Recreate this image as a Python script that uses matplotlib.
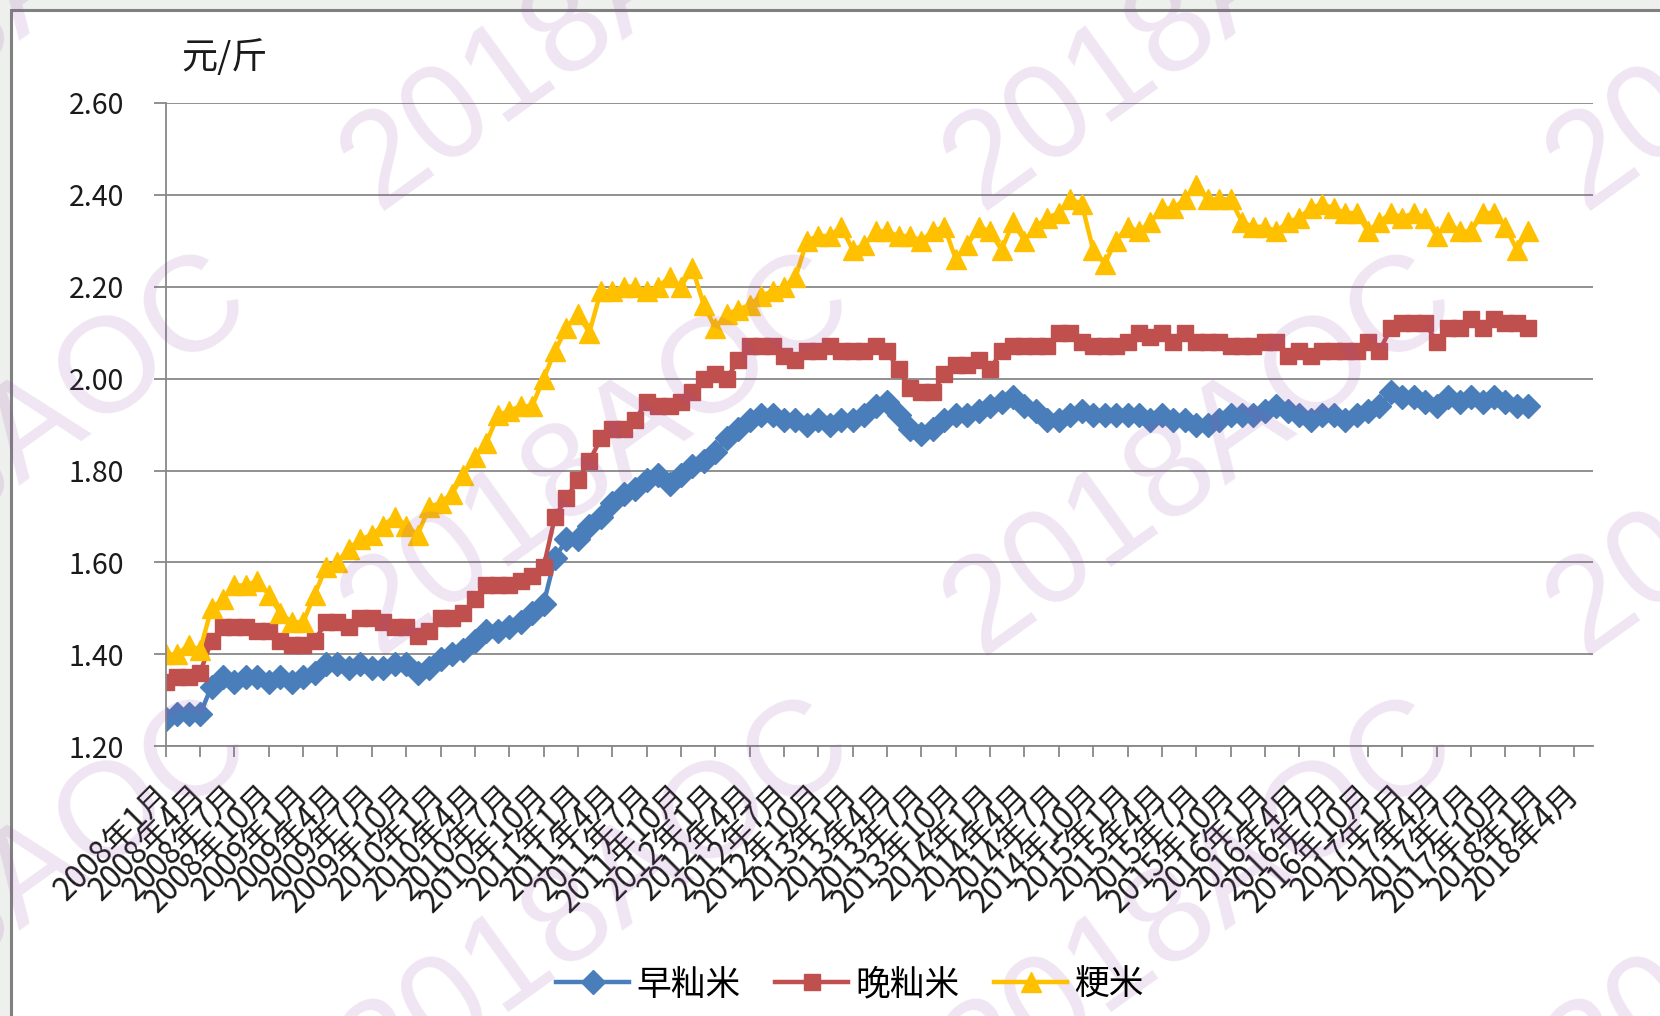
import matplotlib
matplotlib.use('Agg')
import matplotlib.pyplot as plt
from matplotlib.patches import Rectangle

plt.rcParams['font.family'] = ['Noto Sans CJK SC', 'DejaVu Sans']
plt.rcParams['axes.unicode_minus'] = False

# 月度价格 2008年1月 - 2017年12月 (元/斤)
zao = [1.26, 1.27, 1.27, 1.27, 1.33, 1.35, 1.34, 1.35, 1.35, 1.34, 1.35, 1.34,
       1.35, 1.36, 1.38, 1.38, 1.37, 1.38, 1.37, 1.37, 1.38, 1.38, 1.36, 1.37,
       1.39, 1.40, 1.41, 1.43, 1.45, 1.45, 1.46, 1.47, 1.49, 1.51, 1.61, 1.65,
       1.65, 1.68, 1.70, 1.73, 1.75, 1.76, 1.78, 1.79, 1.77, 1.79, 1.81, 1.82,
       1.84, 1.87, 1.89, 1.91, 1.92, 1.92, 1.91, 1.91, 1.90, 1.91, 1.90, 1.91,
       1.91, 1.92, 1.94, 1.95, 1.92, 1.89, 1.88, 1.89, 1.91, 1.92, 1.92, 1.93,
       1.94, 1.95, 1.96, 1.94, 1.93, 1.91, 1.91, 1.92, 1.93, 1.92, 1.92, 1.92,
       1.92, 1.92, 1.91, 1.92, 1.91, 1.91, 1.90, 1.90, 1.91, 1.92, 1.92, 1.92,
       1.93, 1.94, 1.93, 1.92, 1.91, 1.92, 1.92, 1.91, 1.92, 1.93, 1.94, 1.97,
       1.96, 1.96, 1.95, 1.94, 1.96, 1.95, 1.96, 1.95, 1.96, 1.95, 1.94, 1.94]
wan = [1.34, 1.35, 1.35, 1.36, 1.43, 1.46, 1.46, 1.46, 1.45, 1.45, 1.43, 1.42,
       1.42, 1.43, 1.47, 1.47, 1.46, 1.48, 1.48, 1.47, 1.46, 1.46, 1.44, 1.45,
       1.48, 1.48, 1.49, 1.52, 1.55, 1.55, 1.55, 1.56, 1.57, 1.59, 1.70, 1.74,
       1.78, 1.82, 1.87, 1.89, 1.89, 1.91, 1.95, 1.94, 1.94, 1.95, 1.97, 2.00,
       2.01, 2.00, 2.04, 2.07, 2.07, 2.07, 2.05, 2.04, 2.06, 2.06, 2.07, 2.06,
       2.06, 2.06, 2.07, 2.06, 2.02, 1.98, 1.97, 1.97, 2.01, 2.03, 2.03, 2.04,
       2.02, 2.06, 2.07, 2.07, 2.07, 2.07, 2.10, 2.10, 2.08, 2.07, 2.07, 2.07,
       2.08, 2.10, 2.09, 2.10, 2.08, 2.10, 2.08, 2.08, 2.08, 2.07, 2.07, 2.07,
       2.08, 2.08, 2.05, 2.06, 2.05, 2.06, 2.06, 2.06, 2.06, 2.08, 2.06, 2.11,
       2.12, 2.12, 2.12, 2.08, 2.11, 2.11, 2.13, 2.11, 2.13, 2.12, 2.12, 2.11]
geng = [1.40, 1.40, 1.42, 1.41, 1.50, 1.52, 1.55, 1.55, 1.56, 1.53, 1.49, 1.47,
        1.47, 1.53, 1.59, 1.60, 1.63, 1.65, 1.66, 1.68, 1.70, 1.68, 1.66, 1.72,
        1.73, 1.75, 1.79, 1.83, 1.86, 1.92, 1.93, 1.94, 1.94, 2.00, 2.06, 2.11,
        2.14, 2.10, 2.19, 2.19, 2.20, 2.20, 2.19, 2.20, 2.22, 2.20, 2.24, 2.16,
        2.11, 2.14, 2.15, 2.16, 2.18, 2.19, 2.20, 2.22, 2.30, 2.31, 2.31, 2.33,
        2.28, 2.29, 2.32, 2.32, 2.31, 2.31, 2.30, 2.32, 2.33, 2.26, 2.29, 2.33,
        2.32, 2.28, 2.34, 2.30, 2.33, 2.35, 2.36, 2.39, 2.38, 2.28, 2.25, 2.30,
        2.33, 2.32, 2.34, 2.37, 2.37, 2.39, 2.42, 2.39, 2.39, 2.39, 2.34, 2.33,
        2.33, 2.32, 2.34, 2.35, 2.37, 2.38, 2.37, 2.36, 2.36, 2.32, 2.34, 2.36,
        2.35, 2.36, 2.35, 2.31, 2.34, 2.32, 2.32, 2.36, 2.36, 2.33, 2.28, 2.32]
months = list(range(len(zao)))

tick_pos = list(range(0, 124, 3))
tick_labels = ['2008年1月', '2008年4月', '2008年7月', '2008年10月',
               '2009年1月', '2009年4月', '2009年7月', '2009年10月',
               '2010年1月', '2010年4月', '2010年7月', '2010年10月',
               '2011年1月', '2011年4月', '2011年7月', '2011年10月',
               '2012年1月', '2012年4月', '2012年7月', '2012年10月',
               '2013年1月', '2013年4月', '2013年7月', '2013年10月',
               '2014年1月', '2014年4月', '2014年7月', '2014年10月',
               '2015年1月', '2015年4月', '2015年7月', '2015年10月',
               '2016年1月', '2016年4月', '2016年7月', '2016年10月',
               '2017年1月', '2017年4月', '2017年7月', '2017年10月',
               '2018年1月', '2018年4月']
y_ticks = [1.20, 1.40, 1.60, 1.80, 2.00, 2.20, 2.40, 2.60]

W, H = 1660, 1016
fig = plt.figure(figsize=(W / 100, H / 100), dpi=100)
fig.patch.set_facecolor('#eef0ee')
# 图表区白底+灰边
fig.patches.append(Rectangle((11 / W, -0.1), 1.2, 1 - 10 / H + 0.1, transform=fig.transFigure,
                             facecolor='white', edgecolor='#808080', lw=2.2, zorder=-5))

ax = fig.add_axes([165.7 / W, 1 - 746.4 / H, (1593 - 165.7) / W, (746.4 - 102.7) / H])
ax.set_zorder(1)
ax.patch.set_alpha(0)
grid_c = '#888888'

ax.plot(months, zao, color='#4a7ebb', lw=3.2, marker='D', ms=12, mec='#4a7ebb', label='早籼米')
ax.plot(months, wan, color='#c0504d', lw=3.2, marker='s', ms=11.5, mec='#c0504d', label='晚籼米')
ax.plot(months, geng, color='#ffc000', lw=3.2, marker='^', ms=14, mec='#ffc000', label='粳米')

ax.set_xlim(0, 124.65)
ax.set_ylim(1.2, 2.6)
ax.set_yticks(y_ticks)
ax.set_yticklabels(['%.2f' % v for v in y_ticks])
ax.yaxis.grid(True, color=grid_c, lw=1.3)
ax.set_xticks(tick_pos)
ax.set_xticklabels(tick_labels, rotation=45, ha='right', va='center', rotation_mode='anchor')

for s in ['top', 'right']:
    ax.spines[s].set_visible(False)
for s in ['left', 'bottom']:
    ax.spines[s].set_color(grid_c)
    ax.spines[s].set_linewidth(1.3)
ax.tick_params(axis='y', direction='out', length=9, width=1.3, color=grid_c,
               labelsize=20.5, pad=21, labelcolor='#1a1a1a')
ax.tick_params(axis='x', direction='out', length=8, width=1.3, color=grid_c,
               labelsize=22.5, pad=23, labelcolor='#1a1a1a')

fig.text(224 / W, 1 - 58 / H, '元/斤', fontsize=26, ha='center', va='center', color='#1a1a1a')

h, l = ax.get_legend_handles_labels()
fig.legend(h, l, loc='center', bbox_to_anchor=(850 / W, 1 - 985 / H), ncol=3, frameon=False,
           fontsize=25, handlelength=2.1, handletextpad=0.2, columnspacing=1.0)

# 水印
for i in range(-1, 3):
    for j in range(-1, 2):
        cx = 598 + 603 * i
        cy = 455 + 445 * j
        fig.text(cx / W, 1 - cy / H, '2018AOC', rotation=35.7, rotation_mode='anchor',
                 fontsize=97, family='Liberation Sans', color=(0.6, 0.3, 0.65), alpha=0.15,
                 ha='center', va='center', zorder=5)

fig.savefig('out.png', dpi=100, facecolor=fig.get_facecolor())
